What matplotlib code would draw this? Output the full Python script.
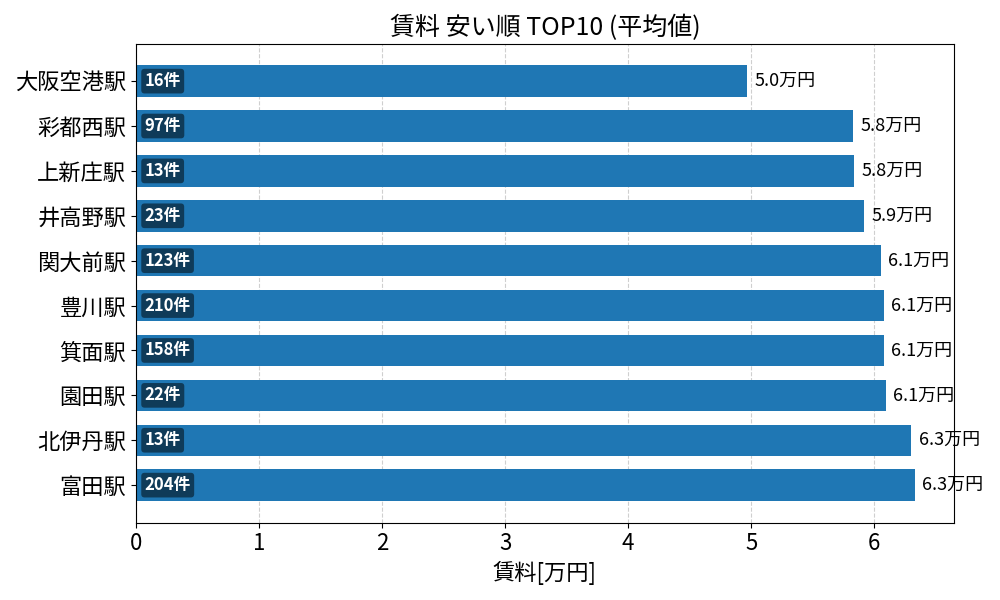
import numpy as np
import matplotlib
matplotlib.use("Agg")
import matplotlib.pyplot as plt

plt.rcParams['font.family'] = ['Noto Sans CJK JP', 'DejaVu Sans']

stations = ["大阪空港駅", "彩都西駅", "上新庄駅", "井高野駅", "関大前駅",
            "豊川駅", "箕面駅", "園田駅", "北伊丹駅", "富田駅"]
rent = [4.965, 5.83, 5.835, 5.915, 6.055, 6.08, 6.08, 6.095, 6.30, 6.33]
counts = [16, 97, 13, 23, 123, 210, 158, 22, 13, 204]

fig, ax = plt.subplots(figsize=(10, 6), dpi=100)
y = np.arange(len(stations))
ax.barh(y, rent, height=0.7, color="#1f77b4")
ax.set_yticks(y)
ax.set_yticklabels(stations, fontsize=16)
ax.invert_yaxis()

for yi, v, c in zip(y, rent, counts):
    ax.text(v + 0.06, yi, f"{v:.1f}万円", va="center", ha="left", fontsize=13)
    ax.text(0.07, yi, f"{c}件", va="center", ha="left", fontsize=12,
            fontweight="bold", color="white",
            bbox=dict(boxstyle="round,pad=0.2", facecolor="black",
                      edgecolor="none", alpha=0.5))

ax.tick_params(axis="x", labelsize=16)
ax.set_xlabel("賃料[万円]", fontsize=16)
ax.set_title("賃料 安い順 TOP10 (平均値)", fontsize=18)
ax.grid(axis="x", linestyle="--", alpha=0.6)
ax.set_axisbelow(True)

plt.tight_layout()
plt.savefig("out.png")
